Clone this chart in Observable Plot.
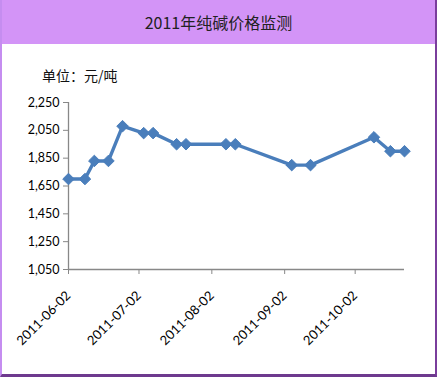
<!DOCTYPE html>
<html>
<head>
<meta charset="utf-8">
<script src="https://cdn.jsdelivr.net/npm/d3@7"></script>
<script src="https://cdn.jsdelivr.net/npm/@observablehq/plot@0.6"></script>
<style>
  html, body { margin: 0; padding: 0; background: #fff; }
  #wrap { position: relative; width: 437px; height: 377px; box-sizing: border-box; overflow: hidden; background: #fff; }
  #frame { position: absolute; left: 0; top: 0; width: 437px; height: 377px; box-sizing: border-box;
           border-left: 2px solid #c58df0; border-right: 2px solid #7a3d9c; border-bottom: 3px solid #6e3a8e; pointer-events: none; z-index: 3; }
  #header { position: absolute; left: 0; top: 0; width: 437px; height: 44px; background: #d394f7;
            font-family: "Noto Sans CJK SC", sans-serif; font-size: 16px; color: #222; text-align: center; line-height: 44px; }
  #unit { position: absolute; left: 42px; top: 65px; font-family: "Noto Sans CJK SC", sans-serif; font-size: 14px; color: #111; }
  #chart { position: absolute; left: 0; top: 44px; }
</style>
</head>
<body>
<div id="wrap">
  <div id="header">2011年纯碱价格监测</div>
  <div id="unit">单位：元/吨</div>
  <div id="chart"></div>
  <div id="frame"></div>
</div>
<script>
const dates = ["2011-06-02","2011-06-09","2011-06-13","2011-06-19","2011-06-25","2011-07-04","2011-07-08","2011-07-18","2011-07-22","2011-08-08","2011-08-12","2011-09-05","2011-09-13","2011-10-10","2011-10-17","2011-10-23"];
const prices = [1700,1700,1830,1830,2080,2030,2030,1950,1950,1950,1950,1800,1800,2000,1900,1900];
const xTicks = ["2011-06-02","2011-07-02","2011-08-02","2011-09-02","2011-10-02"];
const yTicks = [1050,1250,1450,1650,1850,2050,2250];
const xDomain = ["2011-06-02","2011-10-23"];

const parse = d3.utcParse("%Y-%m-%d");
const data = dates.map((d, i) => ({date: parse(d), price: prices[i]}));
const color = "#4a7ebb";

const chart = Plot.plot({
  width: 437,
  height: 333,
  marginLeft: 68,
  marginRight: 33,
  marginTop: 58,
  marginBottom: 108,
  style: {fontFamily: "Lato, 'Open Sans', sans-serif", fontSize: "12px", color: "#000", background: "transparent"},
  x: {type: "utc", domain: xDomain.map(parse)},
  y: {domain: [1050, 2250]},
  marks: [
    Plot.ruleX([parse(xDomain[0])], {stroke: "#888", strokeWidth: 1.3}),
    Plot.ruleY([1050], {stroke: "#888", strokeWidth: 1.3}),
    Plot.axisY({ticks: yTicks, tickFormat: d3.format(","), tickSize: 5, tickPadding: 4, label: null, stroke: "#888", fill: "#000", fontSize: 12.5}),
    Plot.axisX({ticks: xTicks.map(parse), tickFormat: d3.utcFormat("%Y-%m-%d"), tickSize: 5, tickPadding: 19, tickRotate: -45, label: null, stroke: "#888", fill: "#000", fontSize: 13}),
    Plot.line(data, {x: "date", y: "price", stroke: color, strokeWidth: 3.4}),
    Plot.dot(data, {x: "date", y: "price", symbol: "diamond2", r: 5.2, fill: color, stroke: color, strokeWidth: 1})
  ]
});
document.getElementById("chart").appendChild(chart);
</script>
</body>
</html>
